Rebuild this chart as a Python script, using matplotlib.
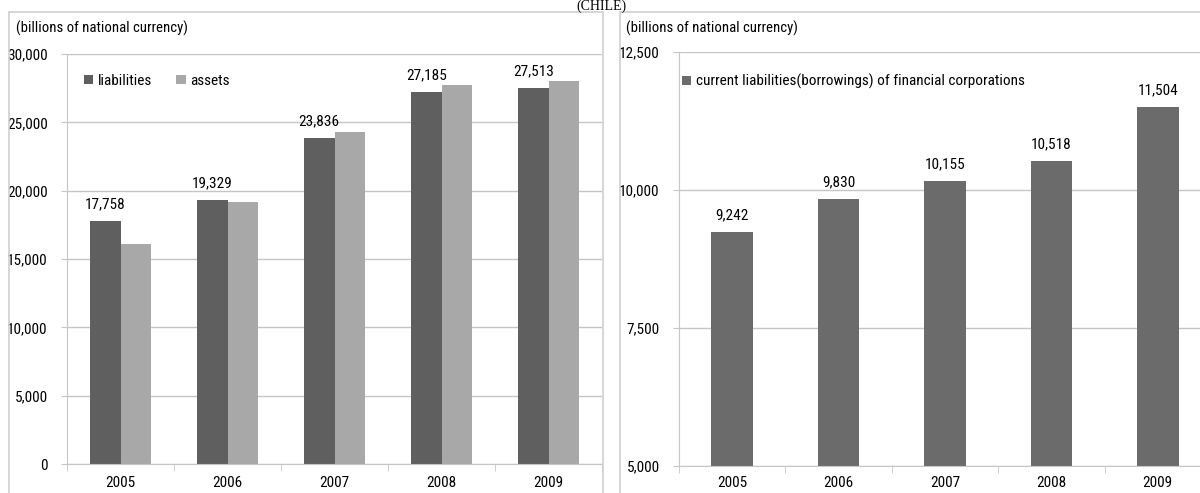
import matplotlib
matplotlib.use("Agg")
import matplotlib.pyplot as plt
from matplotlib import font_manager
from matplotlib.patches import Rectangle
from matplotlib.ticker import FuncFormatter, FixedLocator

# data
years = ["2005", "2006", "2007", "2008", "2009"]
liabilities = [17758, 19329, 23836, 27185, 27513]
assets = [16100, 19180, 24300, 27750, 28000]
borrowings = [9242, 9830, 10155, 10518, 11504]

# pick a narrow sans font if there is one (the original looks like Calibri)
names = {f.name for f in font_manager.fontManager.ttflist}
narrow = "DejaVu Sans"
for cand in ["Liberation Sans Narrow", "Roboto Condensed", "Open Sans Condensed", "Lato", "Roboto"]:
    if cand in names:
        narrow = cand
        break
plt.rcParams["font.family"] = [narrow, "DejaVu Sans"]

W, H = 1200, 493
fig = plt.figure(figsize=(W / 100, H / 100), dpi=100)

def fx(px):
    return px / W

def fy(py):
    return 1 - py / H

grid_c = "#c6c6c6"
frame_c = "#d0d0d0"
dark = "#5f5f5f"
light = "#a8a8a8"
mid = "#6b6b6b"
fs = 11

# outer chart boxes
fig.patches.append(Rectangle((fx(9), -0.02), fx(594), fy(12) + 0.02, transform=fig.transFigure,
                             fill=False, edgecolor=frame_c, lw=1.2))
fig.patches.append(Rectangle((fx(620), -0.02), fx(600), fy(12) + 0.02, transform=fig.transFigure,
                             fill=False, edgecolor=frame_c, lw=1.2))

# country title, kept small so it fits above the boxes
fig.text(fx(601), fy(10), "(CHILE)", family="Liberation Serif", fontsize=10,
         ha="center", va="baseline")
fig.text(fx(16), fy(28), "(billions of national currency)", fontsize=10.6, ha="left", va="center")
fig.text(fx(626), fy(28), "(billions of national currency)", fontsize=10.6, ha="left", va="center")

comma = FuncFormatter(lambda v, p: f"{v:,.0f}")


def style(ax, ymin, ymax, step, xpad):
    ax.set_ylim(ymin, ymax)
    ax.set_xlim(-0.5, len(years) - 0.5)
    ax.yaxis.set_major_locator(FixedLocator(list(range(ymin, ymax + 1, step))))
    ax.yaxis.set_major_formatter(comma)
    ax.grid(axis="y", color=grid_c, lw=1)
    ax.set_axisbelow(True)
    for s in ["top", "right"]:
        ax.spines[s].set_visible(False)
    for s in ["left", "bottom"]:
        ax.spines[s].set_color(grid_c)
    ax.set_xticks(range(len(years)))
    ax.set_xticklabels(years)
    ax.set_xticks([i - 0.5 for i in range(len(years) + 1)], minor=True)
    ax.tick_params(axis="x", which="major", length=0, pad=xpad, labelsize=fs)
    ax.tick_params(axis="x", which="minor", length=5, color=grid_c)
    ax.tick_params(axis="y", length=4, color=grid_c, pad=10, labelsize=fs)
    ax.set_facecolor("none")


# left chart
ax1 = fig.add_axes([fx(67), 1 - 464 / H, fx(535), 410 / H])
x = list(range(len(years)))
bw = 0.285
b1 = ax1.bar([i - bw / 2 for i in x], liabilities, bw, color=dark, label="liabilities")
b2 = ax1.bar([i + bw / 2 for i in x], assets, bw, color=light, label="assets")
style(ax1, 0, 30000, 5000, 8.5)
ax1.bar_label(b1, labels=[f"{v:,}" for v in liabilities], padding=7, fontsize=fs)
ax1.legend(loc="upper left", bbox_to_anchor=(fx(84), fy(74)), bbox_transform=fig.transFigure,
           ncol=2, frameon=False, fontsize=fs, handlelength=0.6, handleheight=0.6,
           handletextpad=0.3, columnspacing=1.6, borderaxespad=0, borderpad=0)

# right chart
ax2 = fig.add_axes([fx(679), 1 - 466 / H, fx(532), 414 / H])
b3 = ax2.bar(x, borrowings, 0.39, color=mid,
             label="current liabilities(borrowings) of financial corporations")
style(ax2, 5000, 12500, 2500, 7)
ax2.bar_label(b3, labels=[f"{v:,}" for v in borrowings], padding=7, fontsize=fs)
ax2.legend(loc="upper left", bbox_to_anchor=(fx(682), fy(74)), bbox_transform=fig.transFigure,
           frameon=False, fontsize=fs, handlelength=0.6, handleheight=0.6,
           handletextpad=0.3, borderaxespad=0, borderpad=0)

fig.savefig("out.png", dpi=100)
